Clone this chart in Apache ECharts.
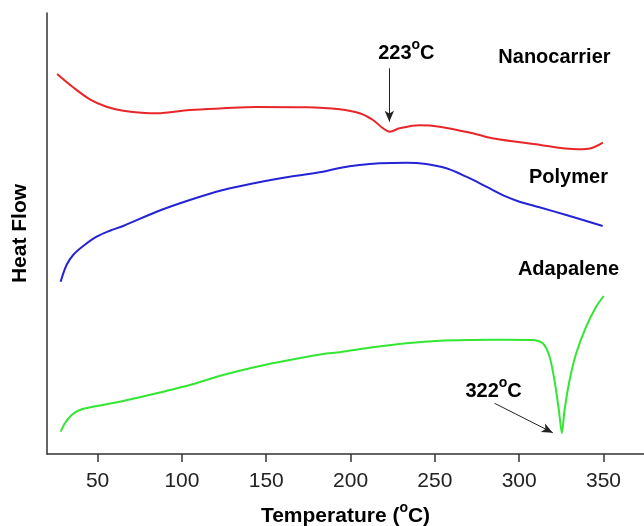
<!DOCTYPE html>
<html>
<head>
<meta charset="utf-8">
<script src="https://cdn.jsdelivr.net/npm/echarts@6/dist/echarts.min.js"></script>
<style>
html,body{margin:0;padding:0;background:#fff;}
#chart{width:644px;height:526px;}
</style>
</head>
<body>
<div id="chart"></div>
<script>
// Temperature (°C), heat flow (arbitrary units)
var nanocarrier = [
  [26, 380], [35.5, 366.7], [45.4, 354.7], [55.3, 347.3], [65.2, 343.3], [85, 340.7],
  [104.7, 344], [124.4, 345.7], [144.2, 347], [173.8, 346.7], [193.5, 344.7], [205.4, 340.7],
  [213.3, 334], [219.2, 325.7], [223.2, 322.3], [229.1, 325.7], [240.9, 328.7], [252.8, 327.3],
  [272.5, 320.7], [284, 315.7], [308.4, 310], [335, 304.7], [342.5, 305.7], [349.6, 311.3]
];
var polymer = [
  [28.1, 172.3], [31.6, 189], [35.5, 199], [41.5, 208], [49.4, 217.3], [57.3, 223.3],
  [65.2, 228], [85, 242.3], [104.7, 254], [124.4, 264], [144.2, 271.3], [163.9, 277.3],
  [183.6, 282.3], [193.5, 286], [205.4, 289], [217.2, 290.7], [233.1, 291.3], [244.9, 290],
  [256.8, 285.7], [268.6, 277.3], [280.5, 267.3], [292.3, 257.3], [300.2, 252.3], [312, 246.7],
  [327.9, 239], [349.5, 228]
];
var adapalene = [
  [28.1, 22.3], [30.6, 30.7], [34.6, 39], [39.5, 44], [47.4, 47.3], [65.2, 53], [85, 60.7],
  [104.7, 69], [124.4, 79], [144.2, 87.3], [163.9, 94], [183.6, 100], [193.5, 101.8],
  [213.3, 106.7], [233.1, 110.7], [252.8, 113.3], [272.5, 114], [292.3, 114.3], [308.1, 114],
  [314, 110.7], [318, 97.3], [320.9, 74], [323.5, 44], [325.3, 20.7], [326.9, 44], [329.9, 74],
  [333.8, 100.7], [339.7, 127.3], [345.6, 147.3], [350.1, 158]
];
var xTicks = [50, 100, 150, 200, 250, 300, 350];
var seriesNames = ['Nanocarrier', 'Polymer', 'Adapalene'];
var seriesLabelPos = [[320.9, 396.7], [329.2, 276.7], [329.2, 184.7]];
var peakLabels = ['223{sup|o}C', '322{sup|o}C'];
var peakLabelPos = [[233.1, 400.7], [284.8, 62.3]];
var peakArrows = [
  [[223, 385.7], [223, 332.3]],
  [[285.4, 50.7], [319.9, 21.3]]
];

var FONT = 'Liberation Sans, Arial, sans-serif';
var supStyle = {fontSize: 14, fontWeight: 'bold', fontFamily: FONT, color: '#000', padding: [0, 0, 17, 0]};
var boldLabel = {fontSize: 20, fontWeight: 'bold', fontFamily: FONT, color: '#000', textBorderWidth: 0};

var annotations = [];
seriesNames.forEach(function (n, i) {
  annotations.push({value: seriesLabelPos[i], label: {formatter: n}});
});
peakLabels.forEach(function (t, i) {
  annotations.push({value: peakLabelPos[i], label: {formatter: t}});
});

var chart = echarts.init(document.getElementById('chart'), null, {renderer: 'canvas'});
chart.setOption({
  animation: false,
  backgroundColor: '#fff',
  grid: {left: 47, right: 0, top: 13, bottom: 72, containLabel: false, outerBoundsMode: 'none'},
  xAxis: {
    type: 'value', min: 20, max: 374,
    name: 'Temperature ({sup|o}C)',
    nameLocation: 'middle', nameGap: 47,
    nameTextStyle: {fontSize: 21, fontWeight: 'bold', fontFamily: FONT, color: '#000',
      rich: {sup: supStyle}},
    axisLine: {show: true, lineStyle: {color: '#333', width: 1.5}},
    axisTick: {show: true, inside: false, length: 8, customValues: xTicks, lineStyle: {color: '#333', width: 1.5}},
    axisLabel: {fontSize: 21, fontFamily: FONT, color: '#222', margin: 17, customValues: xTicks},
    splitLine: {show: false}
  },
  yAxis: {
    type: 'value', min: 0, max: 441,
    name: 'Heat Flow', nameLocation: 'middle', nameGap: 16, nameRotate: 90,
    nameTextStyle: {fontSize: 21, fontWeight: 'bold', fontFamily: FONT, color: '#000'},
    axisLine: {show: true, lineStyle: {color: '#333', width: 1.5}},
    axisTick: {show: false}, axisLabel: {show: false}, splitLine: {show: false}
  },
  series: [
    {name: seriesNames[0], type: 'line', data: nanocarrier, showSymbol: false, smooth: 0.35,
      lineStyle: {color: '#e8262a', width: 2}, z: 3,
      markLine: {
        silent: true, symbol: ['none', 'arrow'], symbolSize: [7, 11],
        lineStyle: {color: '#222', width: 1, type: 'solid'}, label: {show: false},
        data: peakArrows.map(function (a) { return [{coord: a[0]}, {coord: a[1]}]; })
      }},
    {name: seriesNames[1], type: 'line', data: polymer, showSymbol: false, smooth: 0.35,
      lineStyle: {color: '#2424d6', width: 2}, z: 3},
    {name: seriesNames[2], type: 'line', data: adapalene, showSymbol: false, smooth: 0.25,
      lineStyle: {color: '#33e633', width: 2}, z: 3},
    {name: 'labels', type: 'scatter', data: annotations, symbolSize: 0, silent: true,
      itemStyle: {opacity: 1},
      label: Object.assign({show: true, position: 'inside', rich: {sup: supStyle}}, boldLabel)}
  ]
});
</script>
</body>
</html>
